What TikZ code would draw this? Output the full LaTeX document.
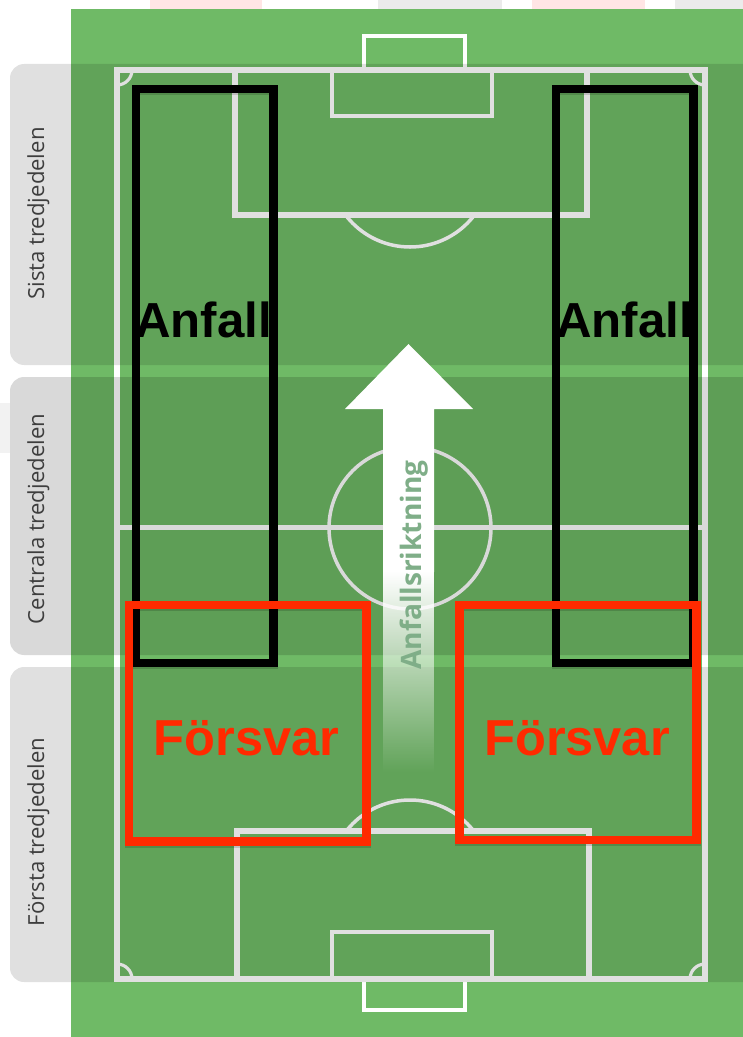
\documentclass[tikz,border=0pt]{standalone}
\usepackage{fontspec}
\usepackage{tikz}
\usetikzlibrary{calc,fadings}
\setmainfont{Liberation Sans}
\newfontfamily\sidefont{Open Sans}
\definecolor{fieldgreen}{HTML}{6FBA66}
\definecolor{forsvarred}{HTML}{FF2A00}
\definecolor{sidetext}{HTML}{3E3E3E}
\definecolor{arrowtext}{HTML}{7FAE88}
\tikzfading[name=shaftfade, top color=transparent!0, bottom color=transparent!100]
\tikzset{
  pitchline/.style={draw=white,line width=3.2pt,line join=miter},
  thinline/.style={draw=white,line width=2.4pt},
  circleline/.style={draw=white,line width=2pt},
  band/.style={fill=black,rounded corners=8pt},
  sidelabel/.style={rotate=90,anchor=base,text=sidetext,font=\sidefont\fontsize{12.6}{14}\selectfont},
  bigword/.style={anchor=base,font=\bfseries\fontsize{28}{30}\selectfont},
  zonebox/.style={line width=4.8pt,line join=miter}
}
\begin{document}
\begin{tikzpicture}[x=0.02cm,y=-0.02cm]
\useasboundingbox (0,0) rectangle (743,1037);
% traces of the page behind
\fill[red!10] (150,0) rectangle (262,9);
\fill[red!10] (532,0) rectangle (645,9);
\fill[black!8] (378,0) rectangle (502,9);
\fill[black!8] (675,0) rectangle (743,9);
\fill[black!5] (0,403) rectangle (10,453);
% field
\fill[fieldgreen] (71,9) rectangle (743,1037);
% lines
\draw[pitchline] (117,70) rectangle (705,979);
\draw[pitchline] (117,527.5) -- (705,527.5);
\draw[pitchline] (235,70) -- (235,215) -- (587,215) -- (587,70);
\draw[pitchline] (237,979) -- (237,831) -- (589,831) -- (589,979);
\draw[thinline] (332,70) -- (332,116) -- (492,116) -- (492,70);
\draw[thinline] (332,979) -- (332,932) -- (492,932) -- (492,979);
\draw[thinline] (364,70) -- (364,36) -- (465,36) -- (465,70);
\draw[thinline] (364,979) -- (364,1010) -- (465,1010) -- (465,979);
\draw[circleline] (410,528) circle [radius=81];
\begin{scope}
\clip (300,215) rectangle (520,260);
\draw[circleline] (410,166) circle [radius=81];
\end{scope}
\begin{scope}
\clip (300,790) rectangle (520,831);
\draw[circleline] (410,881) circle [radius=81];
\end{scope}
% corners
\foreach \cx/\cy in {117/70,705/70,117/979,705/979}{
  \begin{scope}
  \clip (117,70) rectangle (705,979);
  \draw[circleline,line width=1.8pt] (\cx,\cy) circle [radius=15];
  \end{scope}
}
% thirds
\fill[band,opacity=.12] (10,64) rectangle (790,365);
\fill[band,opacity=.15] (10,377) rectangle (790,655);
\fill[band,opacity=.12] (10,667) rectangle (790,982);
\node[sidelabel] (sista) at (44,213.5) {Sista tredjedelen};
\node[sidelabel] (centrala) at (44,519) {Centrala tredjedelen};
\node[sidelabel] (forsta) at (44,832) {Första tredjedelen};
% arrow
\fill[white] (383,572) -- (383,409) -- (345,409) -- (408.5,344) -- (473,409) -- (434,409) -- (434,572) -- cycle;
\fill[white,path fading=shaftfade] (383,572) rectangle (434,772);
\node[rotate=90,anchor=base,text=arrowtext,font=\sidefont\bfseries\fontsize{16}{18}\selectfont] (riktning) at (421.5,565) {Anfallsriktning};
% shadows
\foreach \xa/\ya/\xb/\yb in {136/89/273.5/663,556/89/693.5/663,129/605/366.5/841.5,459.5/605/696.5/840}{
  \draw[zonebox,black,opacity=.15] (\xa,\ya+2) rectangle (\xb,\yb+2);
}
% zones
\draw[zonebox,black] (136,89) rectangle (273.5,663);
\draw[zonebox,black] (556,89) rectangle (693.5,663);
\draw[zonebox,forsvarred] (129,605) rectangle (366.5,841.5);
\draw[zonebox,forsvarred] (459.5,605) rectangle (696.5,840);
\node[bigword,text=black] (anfallv) at (203.5,337) {Anfall};
\node[bigword,text=black] (anfallh) at (624.5,337) {Anfall};
\node[bigword,text=forsvarred,font=\bfseries\fontsize{28.8}{30}\selectfont] (forsvarv) at (246.5,755) {Försvar};
\node[bigword,text=forsvarred,font=\bfseries\fontsize{28.8}{30}\selectfont] (forsvarh) at (577,755) {Försvar};
\end{tikzpicture}
\end{document}
